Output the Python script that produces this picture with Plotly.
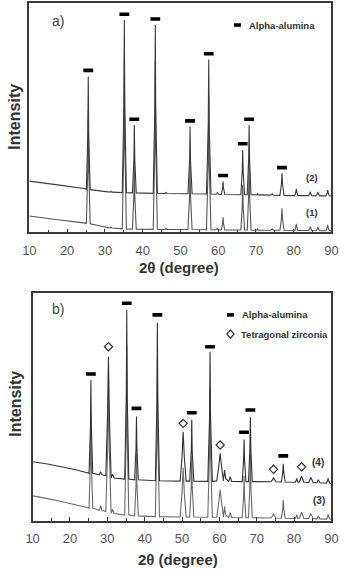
import plotly.graph_objects as go

# ---------------- Panel a) : alpha-alumina samples (1) and (2) ----------------
a_pos  = [25.6, 31.6, 35.15, 37.8, 43.35, 46.2, 52.55, 57.5, 59.8, 61.3, 66.5, 68.2, 70.4, 74.3, 76.9, 80.7, 84.4, 86.4, 89.0]
a_hw   = [0.12, 0.10, 0.12, 0.12, 0.12, 0.10, 0.12, 0.13, 0.10, 0.12, 0.13, 0.13, 0.10, 0.12, 0.15, 0.15, 0.15, 0.15, 0.15]
a_foot = [0.50, 0.30, 0.55, 0.50, 0.55, 0.30, 0.55, 0.60, 0.30, 0.45, 0.50, 0.50, 0.30, 0.35, 0.55, 0.40, 0.45, 0.45, 0.45]
a2_top  = [67.9, 17.9, 92.6, 46.8, 90.4, 17.4, 46.1, 75.4, 17.4, 22.1, 35.9, 46.8, 16.8, 16.8, 25.7, 18.9, 17.7, 17.6, 18.4]
a2_base = [18.6, 17.5, 17.3, 17.2, 17.0, 16.9, 16.8, 16.7, 16.6, 16.5, 16.4, 16.4, 16.3, 16.2, 16.1, 16.0, 16.0, 15.9, 15.9]
a1_top  = [53.0, 2.3, 76.8, 31.0, 74.7, 1.7, 30.5, 59.8, 1.9, 6.6, 20.5, 31.4, 1.4, 1.5, 10.5, 3.7, 2.5, 2.4, 3.2]
a1_base = [3.7, 1.9, 1.5, 1.4, 1.3, 1.2, 1.2, 1.1, 1.1, 1.0, 1.0, 1.0, 0.9, 0.9, 0.9, 0.8, 0.8, 0.7, 0.7]
a2_bg_x = [10, 17, 24.9, 90]
a2_bg_y = [22.3, 20.8, 19.0, 15.8]
a1_bg_x = [10, 17, 24.9, 90]
a1_bg_y = [7.1, 5.6, 4.0, 0.6]
a_alum_x = [25.6, 35.15, 37.8, 43.35, 52.55, 57.5, 61.3, 66.5, 68.2, 76.9]
a_alum_y = [70.6, 95.1, 49.3, 93.0, 48.6, 77.9, 24.8, 38.6, 49.3, 28.2]

# ---------------- Panel b) : alumina + tetragonal zirconia samples (3) and (4) ----------------
b_pos  = [25.6, 28.2, 30.3, 31.4, 35.2, 37.8, 43.4, 50.3, 52.6, 57.5, 60.2, 61.4, 62.9, 66.6, 68.3, 74.5, 77.1, 80.7, 82.0, 84.5, 86.5, 89.1]
b_hw   = [0.12, 0.15, 0.25, 0.20, 0.12, 0.12, 0.12, 0.30, 0.12, 0.13, 0.40, 0.12, 0.20, 0.13, 0.13, 0.30, 0.15, 0.15, 0.30, 0.30, 0.20, 0.15]
b_foot = [0.50, 0.35, 0.70, 0.40, 0.55, 0.50, 0.55, 0.80, 0.55, 0.60, 0.90, 0.30, 0.40, 0.50, 0.50, 0.70, 0.50, 0.35, 0.60, 0.60, 0.45, 0.45]
b4_top  = [61.9, 21.6, 72.1, 20.5, 92.8, 45.8, 87.1, 39.1, 44.4, 74.3, 29.6, 22.3, 19.4, 35.7, 45.5, 18.8, 25.0, 18.6, 19.7, 19.0, 18.0, 18.6]
b4_base = [20.8, 20.2, 19.8, 18.8, 18.3, 18.0, 17.6, 17.4, 17.4, 17.3, 17.5, 18.5, 17.3, 17.2, 17.2, 17.1, 17.0, 16.9, 16.9, 16.8, 16.7, 16.5]
b3_top  = [46.6, 6.6, 56.3, 4.9, 77.0, 29.9, 71.3, 23.3, 28.6, 58.5, 13.7, 6.2, 3.5, 19.8, 29.6, 2.9, 9.1, 2.7, 3.8, 3.1, 2.1, 2.8]
b3_base = [5.5, 4.6, 4.0, 3.2, 2.5, 2.1, 1.8, 1.6, 1.6, 1.5, 1.6, 2.4, 1.4, 1.3, 1.3, 1.2, 1.1, 1.0, 1.0, 0.9, 0.8, 0.7]
b4_bg_x = [10, 14, 18, 22, 24.9, 90]
b4_bg_y = [25.9, 24.9, 23.6, 22.2, 21.0, 16.4]
b3_bg_x = [10, 14, 18, 22, 24.9, 90]
b3_bg_y = [10.9, 9.7, 8.3, 6.8, 5.7, 0.6]
b_alum_x = [25.6, 35.2, 37.8, 43.4, 52.6, 57.5, 66.6, 68.3, 77.1]
b_alum_y = [64.5, 95.6, 49.4, 90.5, 47.5, 76.5, 38.9, 48.7, 28.5]
b_zirc_x = [30.3, 50.3, 60.2, 74.5, 82.0]
b_zirc_y = [76.5, 42.8, 33.3, 22.6, 23.7]

x_ticks = [10, 20, 30, 40, 50, 60, 70, 80, 90]


def profile(pos, hw, foot, top, base, bg_x, bg_y):
    pts = list(zip(bg_x, bg_y))
    for p, h, f, t, b in zip(pos, hw, foot, top, base):
        mid = b + 0.5 * (t - b)
        pts += [(p - f, b), (p - h, mid), (p, t), (p + h, mid), (p + f, b)]
    pts.sort(key=lambda q: q[0])
    return [q[0] for q in pts], [q[1] for q in pts]


fig = go.Figure()

def add_pattern(xa, ya, args, color, name):
    xs, ys = profile(*args)
    fig.add_trace(go.Scatter(x=xs, y=ys, mode="lines", name=name, showlegend=False,
                             line=dict(color=color, width=1.1, simplify=False),
                             xaxis=xa, yaxis=ya, hoverinfo="skip"))

add_pattern("x", "y", (a_pos, a_hw, a_foot, a1_top, a1_base, a1_bg_x, a1_bg_y), "#555555", "(1)")
add_pattern("x", "y", (a_pos, a_hw, a_foot, a2_top, a2_base, a2_bg_x, a2_bg_y), "#3a3a3a", "(2)")
add_pattern("x2", "y2", (b_pos, b_hw, b_foot, b3_top, b3_base, b3_bg_x, b3_bg_y), "#6a6a6a", "(3)")
add_pattern("x2", "y2", (b_pos, b_hw, b_foot, b4_top, b4_base, b4_bg_x, b4_bg_y), "#333333", "(4)")

alum_marker = dict(symbol="line-ew", size=7, color="black", line=dict(color="black", width=3.6))
zirc_marker = dict(symbol="diamond-open", size=6.3, color="#333333", line=dict(color="#333333", width=1.2))

fig.add_trace(go.Scatter(x=a_alum_x, y=a_alum_y, mode="markers", marker=alum_marker,
                         name="Alpha-alumina", showlegend=False, xaxis="x", yaxis="y"))
fig.add_trace(go.Scatter(x=b_alum_x, y=b_alum_y, mode="markers", marker=alum_marker,
                         name="Alpha-alumina", showlegend=False, xaxis="x2", yaxis="y2"))
fig.add_trace(go.Scatter(x=b_zirc_x, y=b_zirc_y, mode="markers", marker=zirc_marker,
                         name="Tetragonal zirconia", showlegend=False, xaxis="x2", yaxis="y2"))

W, H = 349, 569
FONT = "Arial, Liberation Sans, Helvetica, sans-serif"

def xaxis_cfg(domain, anchor):
    return dict(domain=domain, anchor=anchor, range=[10, 90], tickvals=x_ticks,
                ticks="inside", ticklen=4, tickwidth=1.2, tickcolor="#333",
                minor=dict(dtick=5, tick0=5, ticks="inside", ticklen=3, tickwidth=1.1, tickcolor="#333"),
                showline=True, linecolor="#3a3a3a", linewidth=1.6, mirror=True,
                showgrid=False, zeroline=False, ticklabelstandoff=5,
                tickfont=dict(family=FONT, size=13, color="#555555"))

def yaxis_cfg(domain, anchor):
    return dict(domain=domain, anchor=anchor, range=[0, 100], showticklabels=False,
                ticks="", showline=True, linecolor="#3a3a3a", linewidth=1.6, mirror=True,
                showgrid=False, zeroline=False)

fig.update_layout(
    width=W, height=H, margin=dict(l=0, r=0, t=0, b=0),
    paper_bgcolor="white", plot_bgcolor="white", showlegend=False,
    xaxis=xaxis_cfg([23.3 / W, 338 / W], "y"),
    yaxis=yaxis_cfg([1 - 232.3 / H, 1 - 3 / H], "x"),
    xaxis2=xaxis_cfg([26.7 / W, 338 / W], "y2"),
    yaxis2=yaxis_cfg([1 - 520.7 / H, 1 - 293.3 / H], "x2"),
)

ann = []
def text(x, y, s, size, bold=False, xref="paper", yref="paper", xanchor="center", angle=0, color="#333333"):
    ann.append(dict(x=x, y=y, xref=xref, yref=yref, text=f"<b>{s}</b>" if bold else s,
                    showarrow=False, xanchor=xanchor, yanchor="middle", textangle=angle,
                    font=dict(family=FONT, size=size, color=color)))

# axis titles
text(179 / W, 1 - 267 / H, "2θ (degree)", 15, bold=True)
text(178 / W, 1 - 559 / H, "2θ (degree)", 15, bold=True)
text(8 / W, 1 - 117 / H, "Intensity", 16, bold=True, angle=-90)
text(8 / W, 1 - 404 / H, "Intensity", 16, bold=True, angle=-90)
# panel letters
text(0.094, 0.921, "a)", 14, xref="x domain", yref="y domain", color="#444444")
text(0.085, 0.929, "b)", 14, xref="x2 domain", yref="y2 domain", color="#444444")
# sample labels
text(0.937, 0.237, "(2)", 9.5, bold=True, xref="x domain", yref="y domain")
text(0.937, 0.0885, "(1)", 9.5, bold=True, xref="x domain", yref="y domain")
text(0.954, 0.254, "(4)", 10, bold=True, xref="x2 domain", yref="y2 domain")
text(0.958, 0.091, "(3)", 10, bold=True, xref="x2 domain", yref="y2 domain")
# legends (text)
text(0.721, 0.904, "Alpha-alumina", 9.5, bold=True, xref="x domain", yref="y domain", xanchor="left")
text(0.694, 0.905, "Alpha-alumina", 9.5, bold=True, xref="x2 domain", yref="y2 domain", xanchor="left")
text(0.691, 0.821, "Tetragonal zirconia", 9.5, bold=True, xref="x2 domain", yref="y2 domain", xanchor="left")
fig.update_layout(annotations=ann)

# legend keys as small shapes (pixel sized, anchored in axis-domain coordinates)
shapes = [
    dict(type="rect", xref="x domain", yref="y domain", xsizemode="pixel", ysizemode="pixel",
         xanchor=0.689, yanchor=0.904, x0=-3.5, x1=3.5, y0=-1.8, y1=1.8,
         fillcolor="black", line=dict(width=0)),
    dict(type="rect", xref="x2 domain", yref="y2 domain", xsizemode="pixel", ysizemode="pixel",
         xanchor=0.662, yanchor=0.905, x0=-3.5, x1=3.5, y0=-1.8, y1=1.8,
         fillcolor="black", line=dict(width=0)),
    dict(type="path", xref="x2 domain", yref="y2 domain", xsizemode="pixel", ysizemode="pixel",
         xanchor=0.662, yanchor=0.821, path="M -3.6,0 L 0,4.2 L 3.6,0 L 0,-4.2 Z",
         fillcolor="rgba(0,0,0,0)", line=dict(color="#333333", width=1.2)),
]
fig.update_layout(shapes=shapes)

fig.write_html("out.html")
